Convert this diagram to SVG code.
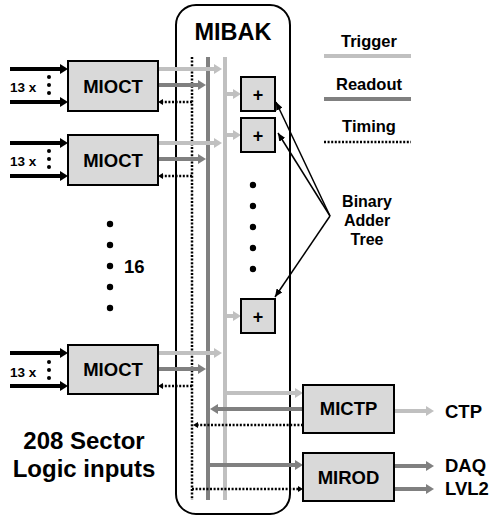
<svg xmlns="http://www.w3.org/2000/svg" width="493" height="517" viewBox="0 0 493 517">
<style>
  text { font-family: "Liberation Sans", Arial, sans-serif; font-weight: bold; fill: #000; }
  .box { fill: #d9d9d9; stroke: #000; stroke-width: 2; }
  .trig { stroke: #c0c0c0; stroke-width: 4; fill: none; }
  .read { stroke: #808080; stroke-width: 4; fill: none; }
  .time { stroke: #000; stroke-width: 2.5; stroke-dasharray: 2 1.6; fill: none; }
  .inp { stroke: #000; stroke-width: 4; fill: none; }
  .thin { stroke: #000; stroke-width: 1.5; fill: none; }
  .dot { fill: #000; }
  .leg { font-size: 16.5px; }
  .plus { font-size: 18px; }
</style>
<defs>
  <marker id="aTrig" markerUnits="userSpaceOnUse" markerWidth="8" markerHeight="10" viewBox="0 0 8 10" refX="0" refY="5" orient="auto">
    <path d="M0,0 L8,5 L0,10 z" fill="#c0c0c0"/>
  </marker>
  <marker id="aRead" markerUnits="userSpaceOnUse" markerWidth="8" markerHeight="10" viewBox="0 0 8 10" refX="0" refY="5" orient="auto">
    <path d="M0,0 L8,5 L0,10 z" fill="#808080"/>
  </marker>
  <marker id="aInp" markerUnits="userSpaceOnUse" markerWidth="8" markerHeight="10" viewBox="0 0 8 10" refX="0" refY="5" orient="auto">
    <path d="M0,0 L8,5 L0,10 z" fill="#000"/>
  </marker>
  <marker id="aTime" markerUnits="userSpaceOnUse" markerWidth="5" markerHeight="6" viewBox="0 0 5 6" refX="0" refY="3" orient="auto">
    <path d="M0,0 L5,3 L0,6 z" fill="#000"/>
  </marker>
  <marker id="aThin" markerUnits="userSpaceOnUse" markerWidth="8" markerHeight="7" viewBox="0 0 8 7" refX="8" refY="3.5" orient="auto">
    <path d="M0,0 L8,3.5 L0,7 z" fill="#000"/>
  </marker>
</defs>

<g id="mibak">
  <rect x="176" y="5" width="114" height="509" rx="20" ry="20" fill="none" stroke="#000" stroke-width="2"/>
  <text x="233" y="40" font-size="23.5" text-anchor="middle">MIBAK</text>
</g>

<g id="legend">
  <text class="leg" x="369" y="47" text-anchor="middle">Trigger</text>
  <line class="trig" x1="324" y1="56" x2="411" y2="56"/>
  <text class="leg" x="369" y="90" text-anchor="middle">Readout</text>
  <line class="read" x1="324" y1="99" x2="411" y2="99"/>
  <text class="leg" x="369" y="132" text-anchor="middle">Timing</text>
  <line class="time" x1="324" y1="142" x2="411" y2="142"/>
</g>

<g id="connectors">
  <!-- buses -->
  <line class="time" x1="192" y1="57" x2="192" y2="500"/>
  <line class="read" x1="208" y1="57" x2="208" y2="500"/>
  <line class="trig" x1="225" y1="57" x2="225" y2="500"/>

  <!-- MIOCT 1 -->
  <line class="inp" x1="10" y1="69" x2="60" y2="69" marker-end="url(#aInp)"/>
  <line class="inp" x1="10" y1="102" x2="60" y2="102" marker-end="url(#aInp)"/>
  <line class="trig" x1="158" y1="69" x2="214" y2="69" marker-end="url(#aTrig)"/>
  <line class="read" x1="158" y1="85" x2="198" y2="85" marker-end="url(#aRead)"/>
  <line class="time" x1="192" y1="102" x2="163" y2="102" marker-end="url(#aTime)"/>

  <!-- MIOCT 2 -->
  <line class="inp" x1="10" y1="143" x2="60" y2="143" marker-end="url(#aInp)"/>
  <line class="inp" x1="10" y1="176" x2="60" y2="176" marker-end="url(#aInp)"/>
  <line class="trig" x1="158" y1="143" x2="214" y2="143" marker-end="url(#aTrig)"/>
  <line class="read" x1="158" y1="159" x2="198" y2="159" marker-end="url(#aRead)"/>
  <line class="time" x1="192" y1="176" x2="163" y2="176" marker-end="url(#aTime)"/>

  <!-- MIOCT 3 -->
  <line class="inp" x1="10" y1="353" x2="60" y2="353" marker-end="url(#aInp)"/>
  <line class="inp" x1="10" y1="386" x2="60" y2="386" marker-end="url(#aInp)"/>
  <line class="trig" x1="158" y1="353" x2="214" y2="353" marker-end="url(#aTrig)"/>
  <line class="read" x1="158" y1="369" x2="198" y2="369" marker-end="url(#aRead)"/>
  <line class="time" x1="192" y1="386" x2="163" y2="386" marker-end="url(#aTime)"/>

  <!-- adders -->
  <line class="trig" x1="225" y1="94" x2="233" y2="94" marker-end="url(#aTrig)"/>
  <line class="trig" x1="225" y1="135" x2="233" y2="135" marker-end="url(#aTrig)"/>
  <line class="trig" x1="225" y1="316" x2="233" y2="316" marker-end="url(#aTrig)"/>

  <!-- MICTP -->
  <line class="trig" x1="225" y1="393" x2="295" y2="393" marker-end="url(#aTrig)"/>
  <line class="read" x1="303" y1="409" x2="218" y2="409" marker-end="url(#aRead)"/>
  <line class="time" x1="303" y1="425" x2="198" y2="425" marker-end="url(#aTime)"/>
  <line class="trig" x1="394" y1="411" x2="426" y2="411" marker-end="url(#aTrig)"/>

  <!-- MIROD -->
  <line class="read" x1="208" y1="465" x2="295" y2="465" marker-end="url(#aRead)"/>
  <line class="time" x1="192" y1="489" x2="298" y2="489" marker-end="url(#aTime)"/>
  <line class="read" x1="394" y1="466" x2="426" y2="466" marker-end="url(#aRead)"/>
  <line class="read" x1="394" y1="489" x2="426" y2="489" marker-end="url(#aRead)"/>

  <!-- Binary Adder Tree pointers -->
  <line class="thin" x1="330" y1="216" x2="276" y2="102" marker-end="url(#aThin)"/>
  <line class="thin" x1="330" y1="216" x2="278" y2="133" marker-end="url(#aThin)"/>
  <line class="thin" x1="330" y1="216" x2="275" y2="297" marker-end="url(#aThin)"/>
</g>

<g id="mioct1">
  <rect class="box" x="68" y="61" width="90" height="50"/>
  <text x="113" y="93" font-size="18.5" text-anchor="middle">MIOCT</text>
  <text x="10" y="92" font-size="13.5">13 x</text>
  <circle class="dot" cx="49" cy="77" r="2"/>
  <circle class="dot" cx="49" cy="85" r="2"/>
  <circle class="dot" cx="49" cy="93" r="2"/>
</g>
<g id="mioct2">
  <rect class="box" x="68" y="135" width="90" height="50"/>
  <text x="113" y="167" font-size="18.5" text-anchor="middle">MIOCT</text>
  <text x="10" y="166" font-size="13.5">13 x</text>
  <circle class="dot" cx="49" cy="151" r="2"/>
  <circle class="dot" cx="49" cy="159" r="2"/>
  <circle class="dot" cx="49" cy="167" r="2"/>
</g>
<g id="mioct3">
  <rect class="box" x="68" y="345" width="90" height="49"/>
  <text x="113" y="376" font-size="18.5" text-anchor="middle">MIOCT</text>
  <text x="10" y="377" font-size="13.5">13 x</text>
  <circle class="dot" cx="49" cy="362" r="2"/>
  <circle class="dot" cx="49" cy="370" r="2"/>
  <circle class="dot" cx="49" cy="378" r="2"/>
</g>

<g id="sixteen">
  <circle class="dot" cx="110" cy="224" r="3.2"/>
  <circle class="dot" cx="110" cy="245" r="3.2"/>
  <circle class="dot" cx="110" cy="266" r="3.2"/>
  <circle class="dot" cx="110" cy="287" r="3.2"/>
  <circle class="dot" cx="110" cy="308" r="3.2"/>
  <text x="124" y="273" font-size="18.5">16</text>
</g>

<g id="adder1">
  <rect class="box" x="241" y="77" width="34" height="34"/>
  <text class="plus" x="258" y="101" text-anchor="middle">+</text>
</g>
<g id="adder2">
  <rect class="box" x="241" y="118" width="34" height="34"/>
  <text class="plus" x="258" y="142" text-anchor="middle">+</text>
</g>
<g id="adder-dots">
  <circle class="dot" cx="253" cy="185" r="3.2"/>
  <circle class="dot" cx="253" cy="206" r="3.2"/>
  <circle class="dot" cx="253" cy="227" r="3.2"/>
  <circle class="dot" cx="253" cy="248" r="3.2"/>
  <circle class="dot" cx="253" cy="269" r="3.2"/>
</g>
<g id="adder3">
  <rect class="box" x="241" y="299" width="34" height="34"/>
  <text class="plus" x="258" y="323" text-anchor="middle">+</text>
</g>

<g id="adder-label">
  <text x="367" y="207" font-size="16" text-anchor="middle">Binary</text>
  <text x="367" y="226" font-size="16" text-anchor="middle">Adder</text>
  <text x="367" y="245" font-size="16" text-anchor="middle">Tree</text>
</g>

<g id="mictp">
  <rect class="box" x="303" y="385" width="91" height="48"/>
  <text x="348.5" y="415" font-size="18.5" text-anchor="middle">MICTP</text>
</g>
<g id="mirod">
  <rect class="box" x="303" y="453" width="91" height="48"/>
  <text x="348.5" y="484" font-size="18.5" text-anchor="middle">MIROD</text>
</g>

<g id="outputs">
  <text x="445" y="418" font-size="18.5">CTP</text>
  <text x="445" y="472" font-size="18.5">DAQ</text>
  <text x="445" y="495" font-size="18.5">LVL2</text>
</g>

<g id="sector-label">
  <text x="84" y="449" font-size="24" text-anchor="middle">208 Sector</text>
  <text x="84" y="477" font-size="24" text-anchor="middle">Logic inputs</text>
</g>
</svg>
